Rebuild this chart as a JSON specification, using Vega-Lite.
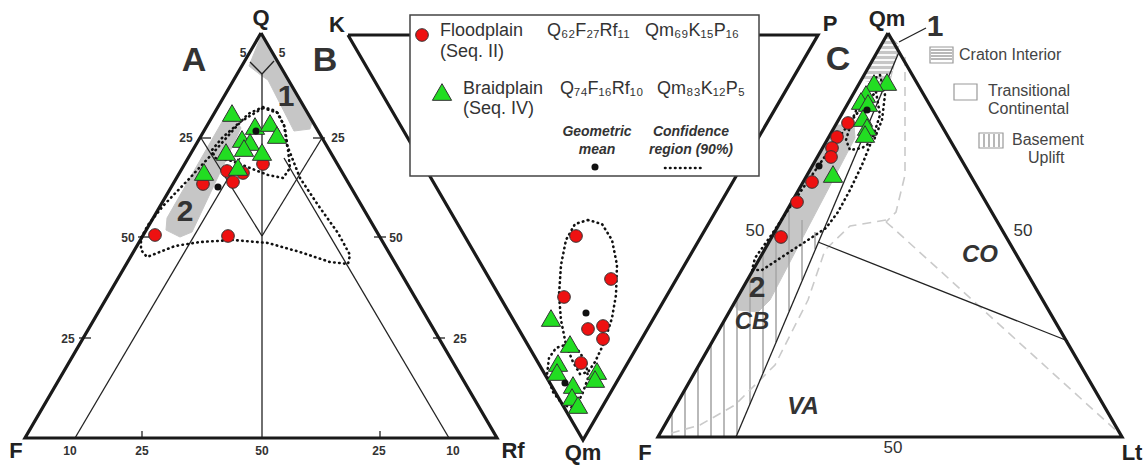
{
"$schema": "https://vega.github.io/schema/vega-lite/v6.json",
"width": 1148, "height": 465,
"autosize": {"type": "fit", "contains": "padding"},
"padding": 0,
"background": "white",
"config": {"view": {"stroke": null}, "font": "Liberation Sans"},
"datasets": {
"outline": [
{"tri":"L","o":1,"x":261,"y":33},{"tri":"L","o":2,"x":25,"y":438},{"tri":"L","o":3,"x":497,"y":438},{"tri":"L","o":4,"x":261,"y":33},
{"tri":"M","o":1,"x":348,"y":35},{"tri":"M","o":2,"x":818,"y":35},{"tri":"M","o":3,"x":583,"y":440},{"tri":"M","o":4,"x":348,"y":35},
{"tri":"R","o":1,"x":888,"y":33},{"tri":"R","o":2,"x":658,"y":437},{"tri":"R","o":3,"x":1122,"y":437},{"tri":"R","o":4,"x":888,"y":33}
],
"fills": [
{"id":"L1","o":1,"x":249,"y":66},{"id":"L1","o":2,"x":261,"y":36},{"id":"L1","o":3,"x":277,"y":61},{"id":"L1","o":4,"x":312,"y":122},{"id":"L1","o":5,"x":310,"y":129},{"id":"L1","o":6,"x":294,"y":131},{"id":"L1","o":7,"x":268,"y":80},{"id":"L1","o":8,"x":262,"y":76},
{"id":"L2","o":1,"x":222,"y":122},{"id":"L2","o":2,"x":235,"y":119},{"id":"L2","o":3,"x":241,"y":128},{"id":"L2","o":4,"x":192,"y":232},{"id":"L2","o":5,"x":180,"y":237},{"id":"L2","o":6,"x":166,"y":230},{"id":"L2","o":7,"x":167,"y":218},
{"id":"R2","o":1,"x":836,"y":125},{"id":"R2","o":2,"x":854,"y":125},{"id":"R2","o":3,"x":855,"y":138},{"id":"R2","o":4,"x":770,"y":300},{"id":"R2","o":5,"x":758,"y":312},{"id":"R2","o":6,"x":738,"y":310},{"id":"R2","o":7,"x":733,"y":304},
{"id":"RC","o":1,"x":888,"y":34},{"id":"RC","o":2,"x":899,"y":45},{"id":"RC","o":3,"x":889,"y":85},{"id":"RC","o":4,"x":862,"y":80}
],
"inner": [
{"x":250,"y":62,"x2":262,"y2":74},{"x":274,"y":61,"x2":262,"y2":74},{"x":262,"y":74,"x2":262,"y2":438},
{"x":201,"y":138,"x2":262,"y2":236},{"x":322,"y":138,"x2":262,"y2":236},
{"x":75,"y":438,"x2":240,"y2":158},{"x":449,"y":438,"x2":284,"y2":158},
{"x":199,"y":138,"x2":211,"y2":138},{"x":313,"y":138,"x2":325,"y2":138},
{"x":138,"y":237,"x2":150,"y2":237},{"x":374,"y":237,"x2":386,"y2":237},
{"x":79,"y":338,"x2":91,"y2":338},{"x":433,"y":338,"x2":445,"y2":338},
{"x":142,"y":431,"x2":142,"y2":438},{"x":380,"y":431,"x2":380,"y2":438},
{"x":736,"y":437,"x2":899,"y2":52},{"x":818,"y":242,"x2":1068,"y2":341},
{"x":926,"y":28,"x2":899,"y2":42}
],
"chatch": [
{"x":884,"y":40,"x2":892,"y2":40},{"x":881,"y":45,"x2":899,"y2":45},{"x":878,"y":50,"x2":898,"y2":50},{"x":875,"y":55,"x2":896,"y2":55},{"x":873,"y":60,"x2":895,"y2":60},{"x":870,"y":65,"x2":894,"y2":65},{"x":867,"y":70,"x2":893,"y2":70},{"x":864,"y":75,"x2":891,"y2":75},{"x":862,"y":80,"x2":890,"y2":80}
],
"bhatch": [
{"x":672,"y":412,"x2":672,"y2":437},{"x":685,"y":390,"x2":685,"y2":437},{"x":698,"y":367,"x2":698,"y2":437},{"x":711,"y":344,"x2":711,"y2":437},{"x":724,"y":321,"x2":724,"y2":437},{"x":737,"y":298,"x2":737,"y2":434},{"x":750,"y":275,"x2":750,"y2":404},{"x":763,"y":253,"x2":763,"y2":373},{"x":776,"y":230,"x2":776,"y2":342},{"x":789,"y":210,"x2":789,"y2":311},{"x":802,"y":220,"x2":802,"y2":280},{"x":815,"y":232,"x2":815,"y2":249}
],
"lhatch": [
{"x":931,"y":50,"x2":952,"y2":50},{"x":931,"y":53,"x2":952,"y2":53},{"x":931,"y":56,"x2":952,"y2":56},{"x":931,"y":59,"x2":952,"y2":59},
{"x":984,"y":134,"x2":984,"y2":147},{"x":989,"y":134,"x2":989,"y2":147},{"x":994,"y":134,"x2":994,"y2":147},{"x":999,"y":134,"x2":999,"y2":147}
],
"dashed": [
{"id":"D1","o":1,"x":905,"y":57},{"id":"D1","o":2,"x":905,"y":175},{"id":"D1","o":3,"x":896,"y":212},{"id":"D1","o":4,"x":886,"y":222},
{"id":"D2","o":1,"x":886,"y":222},{"id":"D2","o":2,"x":893,"y":228},{"id":"D2","o":3,"x":1121,"y":435},
{"id":"D3","o":1,"x":886,"y":220},{"id":"D3","o":2,"x":850,"y":226},{"id":"D3","o":3,"x":825,"y":250},{"id":"D3","o":4,"x":808,"y":300},{"id":"D3","o":5,"x":775,"y":365},{"id":"D3","o":6,"x":735,"y":405},{"id":"D3","o":7,"x":700,"y":425},{"id":"D3","o":8,"x":668,"y":434}
],
"conf": [
{"id":"LF","o":1,"x":263,"y":107},{"id":"LF","o":2,"x":276,"y":111},{"id":"LF","o":3,"x":284,"y":125},{"id":"LF","o":4,"x":287,"y":145},{"id":"LF","o":5,"x":300,"y":178},{"id":"LF","o":6,"x":318,"y":205},{"id":"LF","o":7,"x":338,"y":233},{"id":"LF","o":8,"x":350,"y":255},{"id":"LF","o":9,"x":348,"y":264},{"id":"LF","o":10,"x":330,"y":262},{"id":"LF","o":11,"x":300,"y":252},{"id":"LF","o":12,"x":268,"y":243},{"id":"LF","o":13,"x":233,"y":240},{"id":"LF","o":14,"x":200,"y":242},{"id":"LF","o":15,"x":175,"y":246},{"id":"LF","o":16,"x":147,"y":257},{"id":"LF","o":17,"x":141,"y":250},{"id":"LF","o":18,"x":141,"y":238},{"id":"LF","o":19,"x":148,"y":225},{"id":"LF","o":20,"x":163,"y":206},{"id":"LF","o":21,"x":188,"y":180},{"id":"LF","o":22,"x":213,"y":153},{"id":"LF","o":23,"x":235,"y":128},{"id":"LF","o":24,"x":248,"y":114},{"id":"LF","o":25,"x":263,"y":107},
{"id":"LB","o":1,"x":263,"y":108},{"id":"LB","o":2,"x":278,"y":113},{"id":"LB","o":3,"x":285,"y":128},{"id":"LB","o":4,"x":288,"y":150},{"id":"LB","o":5,"x":290,"y":168},{"id":"LB","o":6,"x":283,"y":178},{"id":"LB","o":7,"x":268,"y":175},{"id":"LB","o":8,"x":250,"y":168},{"id":"LB","o":9,"x":232,"y":161},{"id":"LB","o":10,"x":215,"y":158},{"id":"LB","o":11,"x":212,"y":150},{"id":"LB","o":12,"x":222,"y":138},{"id":"LB","o":13,"x":240,"y":122},{"id":"LB","o":14,"x":263,"y":108},
{"id":"MF","o":1,"x":588,"y":220},{"id":"MF","o":2,"x":602,"y":224},{"id":"MF","o":3,"x":612,"y":240},{"id":"MF","o":4,"x":617,"y":265},{"id":"MF","o":5,"x":616,"y":295},{"id":"MF","o":6,"x":612,"y":318},{"id":"MF","o":7,"x":604,"y":343},{"id":"MF","o":8,"x":595,"y":362},{"id":"MF","o":9,"x":588,"y":372},{"id":"MF","o":10,"x":580,"y":374},{"id":"MF","o":11,"x":573,"y":362},{"id":"MF","o":12,"x":566,"y":345},{"id":"MF","o":13,"x":561,"y":320},{"id":"MF","o":14,"x":559,"y":295},{"id":"MF","o":15,"x":561,"y":265},{"id":"MF","o":16,"x":566,"y":240},{"id":"MF","o":17,"x":575,"y":224},{"id":"MF","o":18,"x":588,"y":220},
{"id":"MB","o":1,"x":565,"y":345},{"id":"MB","o":2,"x":578,"y":350},{"id":"MB","o":3,"x":586,"y":362},{"id":"MB","o":4,"x":588,"y":378},{"id":"MB","o":5,"x":582,"y":395},{"id":"MB","o":6,"x":574,"y":408},{"id":"MB","o":7,"x":563,"y":405},{"id":"MB","o":8,"x":553,"y":392},{"id":"MB","o":9,"x":547,"y":375},{"id":"MB","o":10,"x":549,"y":358},{"id":"MB","o":11,"x":556,"y":348},{"id":"MB","o":12,"x":565,"y":345},
{"id":"RB","o":1,"x":880,"y":75},{"id":"RB","o":2,"x":885,"y":95},{"id":"RB","o":3,"x":882,"y":120},{"id":"RB","o":4,"x":874,"y":140},{"id":"RB","o":5,"x":862,"y":148},{"id":"RB","o":6,"x":850,"y":150},{"id":"RB","o":7,"x":846,"y":140},{"id":"RB","o":8,"x":852,"y":120},{"id":"RB","o":9,"x":862,"y":97},{"id":"RB","o":10,"x":872,"y":80},{"id":"RB","o":11,"x":880,"y":75},
{"id":"RF","o":1,"x":876,"y":92},{"id":"RF","o":2,"x":880,"y":115},{"id":"RF","o":3,"x":872,"y":140},{"id":"RF","o":4,"x":862,"y":165},{"id":"RF","o":5,"x":850,"y":190},{"id":"RF","o":6,"x":838,"y":212},{"id":"RF","o":7,"x":826,"y":228},{"id":"RF","o":8,"x":808,"y":240},{"id":"RF","o":9,"x":785,"y":255},{"id":"RF","o":10,"x":762,"y":270},{"id":"RF","o":11,"x":752,"y":270},{"id":"RF","o":12,"x":755,"y":258},{"id":"RF","o":13,"x":770,"y":237},{"id":"RF","o":14,"x":790,"y":207},{"id":"RF","o":15,"x":810,"y":178},{"id":"RF","o":16,"x":828,"y":152},{"id":"RF","o":17,"x":848,"y":125},{"id":"RF","o":18,"x":866,"y":102},{"id":"RF","o":19,"x":876,"y":92}
],
"pts": [
{"series":"Floodplain","x":263,"y":164},{"series":"Floodplain","x":227,"y":171},{"series":"Floodplain","x":243,"y":173},{"series":"Floodplain","x":233,"y":182},{"series":"Floodplain","x":203,"y":184},{"series":"Floodplain","x":155,"y":235},{"series":"Floodplain","x":228,"y":236},
{"series":"Floodplain","x":576,"y":236},{"series":"Floodplain","x":611,"y":279},{"series":"Floodplain","x":564,"y":297},{"series":"Floodplain","x":588,"y":329},{"series":"Floodplain","x":603,"y":326},{"series":"Floodplain","x":603,"y":339},{"series":"Floodplain","x":581,"y":363},
{"series":"Floodplain","x":848,"y":123},{"series":"Floodplain","x":837,"y":137},{"series":"Floodplain","x":832,"y":148},{"series":"Floodplain","x":831,"y":157},{"series":"Floodplain","x":812,"y":182},{"series":"Floodplain","x":797,"y":202},{"series":"Floodplain","x":781,"y":237},
{"series":"Braidplain","x":232,"y":113},{"series":"Braidplain","x":255,"y":126},{"series":"Braidplain","x":270,"y":123},{"series":"Braidplain","x":277,"y":135},{"series":"Braidplain","x":242,"y":139},{"series":"Braidplain","x":250,"y":142},{"series":"Braidplain","x":244,"y":148},{"series":"Braidplain","x":226,"y":152},{"series":"Braidplain","x":262,"y":152},{"series":"Braidplain","x":204,"y":172},{"series":"Braidplain","x":238,"y":167},
{"series":"Braidplain","x":551,"y":318},{"series":"Braidplain","x":570,"y":344},{"series":"Braidplain","x":558,"y":363},{"series":"Braidplain","x":557,"y":372},{"series":"Braidplain","x":597,"y":371},{"series":"Braidplain","x":595,"y":379},{"series":"Braidplain","x":573,"y":385},{"series":"Braidplain","x":572,"y":397},{"series":"Braidplain","x":578,"y":405},
{"series":"Braidplain","x":887,"y":82},{"series":"Braidplain","x":874,"y":83},{"series":"Braidplain","x":866,"y":94},{"series":"Braidplain","x":861,"y":101},{"series":"Braidplain","x":868,"y":103},{"series":"Braidplain","x":863,"y":118},{"series":"Braidplain","x":867,"y":127},{"series":"Braidplain","x":865,"y":134},{"series":"Braidplain","x":833,"y":174},
{"series":"mean","x":256,"y":131},{"series":"mean","x":218,"y":187},{"series":"mean","x":586,"y":313},{"series":"mean","x":565,"y":383},{"series":"mean","x":867,"y":110},{"series":"mean","x":819,"y":166}
],
"legpts": [
{"series":"Floodplain","x":422,"y":35},{"series":"Braidplain","x":442,"y":92},{"series":"mean","x":595,"y":167}
],
"legrule": [{"x":665,"y":168,"x2":703,"y2":168}],
"legbox": [{"x":410,"y":15,"x2":759,"y2":176}],
"keyboxes": [{"x":930,"y":47,"x2":953,"y2":63},{"x":954,"y":84,"x2":977,"y2":100},{"x":979,"y":133,"x2":1003,"y2":148}],
"t_corner": [
{"x":261,"y":18,"text":"Q"},{"x":337,"y":25,"text":"K"},{"x":830,"y":24,"text":"P"},{"x":887,"y":19,"text":"Qm"},
{"x":16,"y":451,"text":"F"},{"x":513,"y":451,"text":"Rf"},{"x":583,"y":453,"text":"Qm"},{"x":645,"y":453,"text":"F"},{"x":1132,"y":453,"text":"Lt"}
],
"t_letter": [{"x":194,"y":61,"text":"A"},{"x":325,"y":61,"text":"B"},{"x":838,"y":60,"text":"C"}],
"t_num": [{"x":286,"y":97,"text":"1"},{"x":185,"y":212,"text":"2"},{"x":757,"y":288,"text":"2"},{"x":935,"y":27,"text":"1"}],
"t_tick": [
{"x":243,"y":53,"text":"5"},{"x":282,"y":53,"text":"5"},{"x":186,"y":138,"text":"25"},{"x":338,"y":138,"text":"25"},
{"x":128,"y":238,"text":"50"},{"x":396,"y":238,"text":"50"},{"x":68,"y":339,"text":"25"},{"x":460,"y":339,"text":"25"},
{"x":70,"y":451,"text":"10"},{"x":142,"y":451,"text":"25"},{"x":262,"y":451,"text":"50"},{"x":379,"y":451,"text":"25"},{"x":453,"y":451,"text":"10"}
],
"t_tick2": [{"x":755,"y":231,"text":"50"},{"x":1023,"y":231,"text":"50"},{"x":893,"y":448,"text":"50"}],
"t_region": [{"x":980,"y":255,"text":"CO"},{"x":752,"y":322,"text":"CB"},{"x":803,"y":407,"text":"VA"}],
"t_leg": [
{"x":440,"y":31,"text":"Floodplain"},{"x":440,"y":52,"text":"(Seq. II)"},{"x":547,"y":31,"text":"Q₆₂F₂₇Rf₁₁"},{"x":645,"y":31,"text":"Qm₆₉K₁₅P₁₆"},
{"x":463,"y":89,"text":"Braidplain"},{"x":463,"y":109,"text":"(Seq. IV)"},{"x":560,"y":89,"text":"Q₇₄F₁₆Rf₁₀"},{"x":657,"y":89,"text":"Qm₈₃K₁₂P₅"}
],
"t_legit": [{"x":597,"y":132,"text":"Geometric"},{"x":597,"y":150,"text":"mean"},{"x":691,"y":132,"text":"Confidence"},{"x":691,"y":150,"text":"region (90%)"}],
"t_key": [{"x":959,"y":55,"text":"Craton Interior"},{"x":988,"y":91,"text":"Transitional"},{"x":988,"y":109,"text":"Continental"},{"x":1012,"y":140,"text":"Basement"},{"x":1028,"y":158,"text":"Uplift"}]
},
"layer": [
{"data":{"name":"fills"},"mark":{"type":"line","fill":"#c6c6c6","stroke":"#c6c6c6","strokeWidth":1,"interpolate":"linear-closed"},
 "encoding":{"x":{"field":"x","type":"quantitative","scale":{"domain":[0,1148],"nice":false,"zero":false},"axis":null},"y":{"field":"y","type":"quantitative","scale":{"domain":[0,465],"nice":false,"zero":false,"reverse":true},"axis":null},"detail":{"field":"id"},"order":{"field":"o"}}},
{"data":{"name":"chatch"},"mark":{"type":"rule","color":"white","strokeWidth":1.8},
 "encoding":{"x":{"field":"x","type":"quantitative"},"y":{"field":"y","type":"quantitative"},"x2":{"field":"x2"},"y2":{"field":"y2"}}},
{"data":{"name":"bhatch"},"mark":{"type":"rule","color":"#a8a8a8","strokeWidth":1.6},
 "encoding":{"x":{"field":"x","type":"quantitative"},"y":{"field":"y","type":"quantitative"},"x2":{"field":"x2"},"y2":{"field":"y2"}}},
{"data":{"name":"dashed"},"mark":{"type":"line","color":"#cacaca","strokeWidth":1.6,"strokeDash":[9,6]},
 "encoding":{"x":{"field":"x","type":"quantitative"},"y":{"field":"y","type":"quantitative"},"detail":{"field":"id"},"order":{"field":"o"}}},
{"data":{"name":"inner"},"mark":{"type":"rule","color":"#222","strokeWidth":1.3},
 "encoding":{"x":{"field":"x","type":"quantitative"},"y":{"field":"y","type":"quantitative"},"x2":{"field":"x2"},"y2":{"field":"y2"}}},
{"data":{"name":"outline"},"mark":{"type":"line","color":"#1a1a1a","strokeWidth":3.2,"strokeJoin":"miter"},
 "encoding":{"x":{"field":"x","type":"quantitative"},"y":{"field":"y","type":"quantitative"},"detail":{"field":"tri"},"order":{"field":"o"}}},
{"data":{"name":"conf"},"mark":{"type":"line","color":"#111","strokeWidth":2.6,"strokeDash":[0.5,4.5],"strokeCap":"round"},
 "encoding":{"x":{"field":"x","type":"quantitative"},"y":{"field":"y","type":"quantitative"},"detail":{"field":"id"},"order":{"field":"o"}}},
{"data":{"name":"pts"},"transform":[{"filter":"datum.series == 'Floodplain'"}],"mark":{"type":"point","shape":"circle","filled":true,"size":160,"fill":"#ee1111","stroke":"#333","strokeWidth":1,"opacity":1},
 "encoding":{"x":{"field":"x","type":"quantitative"},"y":{"field":"y","type":"quantitative"}}},
{"data":{"name":"pts"},"transform":[{"filter":"datum.series == 'Braidplain'"}],"mark":{"type":"point","shape":"triangle-up","filled":true,"size":370,"fill":"#22dd22","stroke":"#333","strokeWidth":1,"opacity":1},
 "encoding":{"x":{"field":"x","type":"quantitative"},"y":{"field":"y","type":"quantitative"}}},
{"data":{"name":"pts"},"transform":[{"filter":"datum.series == 'mean'"}],"mark":{"type":"point","shape":"circle","filled":true,"size":50,"fill":"#111","stroke":null,"opacity":1},
 "encoding":{"x":{"field":"x","type":"quantitative"},"y":{"field":"y","type":"quantitative"}}},
{"data":{"name":"legbox"},"mark":{"type":"rect","fill":"white","stroke":"#444","strokeWidth":1.5},
 "encoding":{"x":{"field":"x","type":"quantitative"},"y":{"field":"y","type":"quantitative"},"x2":{"field":"x2"},"y2":{"field":"y2"}}},
{"data":{"name":"keyboxes"},"mark":{"type":"rect","fill":"white","stroke":"#999","strokeWidth":1.2},
 "encoding":{"x":{"field":"x","type":"quantitative"},"y":{"field":"y","type":"quantitative"},"x2":{"field":"x2"},"y2":{"field":"y2"}}},
{"data":{"name":"lhatch"},"mark":{"type":"rule","color":"#888","strokeWidth":1.2},
 "encoding":{"x":{"field":"x","type":"quantitative"},"y":{"field":"y","type":"quantitative"},"x2":{"field":"x2"},"y2":{"field":"y2"}}},
{"data":{"name":"legrule"},"mark":{"type":"rule","color":"#111","strokeWidth":2.6,"strokeDash":[0.5,4.5],"strokeCap":"round"},
 "encoding":{"x":{"field":"x","type":"quantitative"},"y":{"field":"y","type":"quantitative"},"x2":{"field":"x2"},"y2":{"field":"y2"}}},
{"data":{"name":"legpts"},"transform":[{"filter":"datum.series == 'Floodplain'"}],"mark":{"type":"point","shape":"circle","filled":true,"size":160,"fill":"#ee1111","stroke":"#333","strokeWidth":1,"opacity":1},
 "encoding":{"x":{"field":"x","type":"quantitative"},"y":{"field":"y","type":"quantitative"}}},
{"data":{"name":"legpts"},"transform":[{"filter":"datum.series == 'Braidplain'"}],"mark":{"type":"point","shape":"triangle-up","filled":true,"size":370,"fill":"#22dd22","stroke":"#333","strokeWidth":1,"opacity":1},
 "encoding":{"x":{"field":"x","type":"quantitative"},"y":{"field":"y","type":"quantitative"}}},
{"data":{"name":"legpts"},"transform":[{"filter":"datum.series == 'mean'"}],"mark":{"type":"point","shape":"circle","filled":true,"size":50,"fill":"#111","stroke":null,"opacity":1},
 "encoding":{"x":{"field":"x","type":"quantitative"},"y":{"field":"y","type":"quantitative"}}},
{"data":{"name":"t_corner"},"mark":{"type":"text","fontSize":22,"fontWeight":"bold","color":"#222"},
 "encoding":{"x":{"field":"x","type":"quantitative"},"y":{"field":"y","type":"quantitative"},"text":{"field":"text"}}},
{"data":{"name":"t_letter"},"mark":{"type":"text","fontSize":34,"fontWeight":"bold","color":"#333"},
 "encoding":{"x":{"field":"x","type":"quantitative"},"y":{"field":"y","type":"quantitative"},"text":{"field":"text"}}},
{"data":{"name":"t_num"},"mark":{"type":"text","fontSize":30,"fontWeight":"bold","color":"#333"},
 "encoding":{"x":{"field":"x","type":"quantitative"},"y":{"field":"y","type":"quantitative"},"text":{"field":"text"}}},
{"data":{"name":"t_tick"},"mark":{"type":"text","fontSize":12,"fontWeight":"bold","color":"#333"},
 "encoding":{"x":{"field":"x","type":"quantitative"},"y":{"field":"y","type":"quantitative"},"text":{"field":"text"}}},
{"data":{"name":"t_tick2"},"mark":{"type":"text","fontSize":17,"color":"#333"},
 "encoding":{"x":{"field":"x","type":"quantitative"},"y":{"field":"y","type":"quantitative"},"text":{"field":"text"}}},
{"data":{"name":"t_region"},"mark":{"type":"text","fontSize":24,"fontWeight":"bold","fontStyle":"italic","color":"#333"},
 "encoding":{"x":{"field":"x","type":"quantitative"},"y":{"field":"y","type":"quantitative"},"text":{"field":"text"}}},
{"data":{"name":"t_leg"},"mark":{"type":"text","fontSize":18,"color":"#333","align":"left"},
 "encoding":{"x":{"field":"x","type":"quantitative"},"y":{"field":"y","type":"quantitative"},"text":{"field":"text"}}},
{"data":{"name":"t_legit"},"mark":{"type":"text","fontSize":14,"fontWeight":"bold","fontStyle":"italic","color":"#333"},
 "encoding":{"x":{"field":"x","type":"quantitative"},"y":{"field":"y","type":"quantitative"},"text":{"field":"text"}}},
{"data":{"name":"t_key"},"mark":{"type":"text","fontSize":16,"color":"#444","align":"left"},
 "encoding":{"x":{"field":"x","type":"quantitative"},"y":{"field":"y","type":"quantitative"},"text":{"field":"text"}}}
]
}
